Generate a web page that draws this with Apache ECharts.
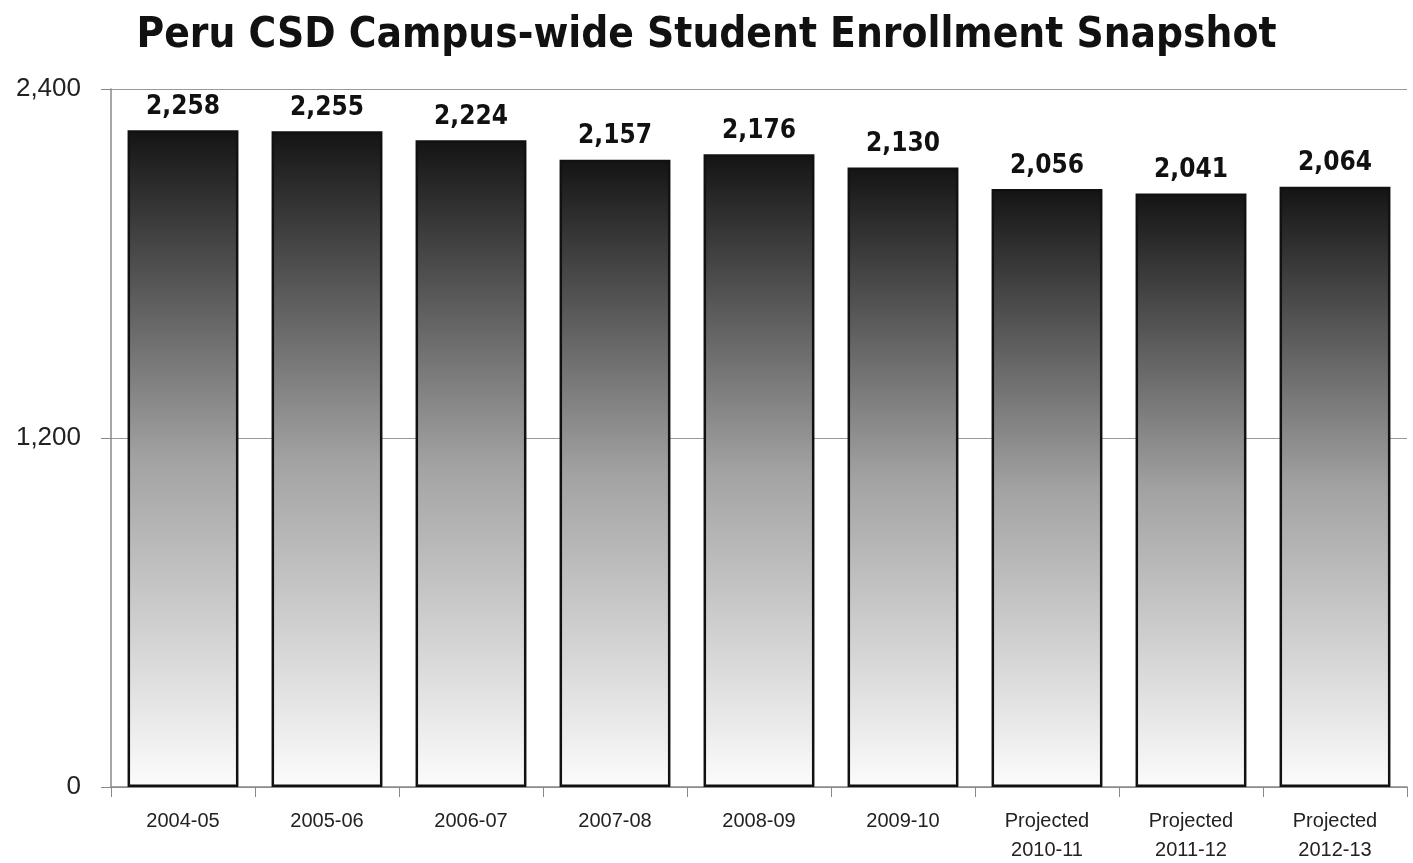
<!DOCTYPE html>
<html><head><meta charset="utf-8">
<script src="https://cdn.jsdelivr.net/npm/echarts@6/dist/echarts.min.js"></script>
<style>html,body{margin:0;padding:0;background:#fff}#c{width:1413px;height:863px}</style>
</head><body><div id="c"></div>
<script>
const categories = ['2004-05','2005-06','2006-07','2007-08','2008-09','2009-10','Projected\n2010-11','Projected\n2011-12','Projected\n2012-13'];
const enrollment = [2258,2255,2224,2157,2176,2130,2056,2041,2064];
const yTicks = [0,1200,2400];

const chart = echarts.init(document.getElementById('c'));
chart.setOption({
  backgroundColor:'#fff',
  animation:false,
  title:{text:'Peru CSD Campus-wide Student Enrollment Snapshot',left:'center',top:10,
    textStyle:{fontFamily:'"Liberation Sans Narrow","DejaVu Sans Condensed",Arial,sans-serif',fontSize:42,fontWeight:'bold',color:'#111'}},
  grid:{left:111,right:6,top:89,bottom:76,containLabel:false,outerBoundsMode:'none'},
  xAxis:{type:'category',data:categories,
    axisLine:{lineStyle:{color:'#888',width:1.5}},
    axisTick:{show:true,length:10,lineStyle:{color:'#888'}},
    axisLabel:{fontFamily:'"Liberation Sans",Arial,sans-serif',fontSize:20,color:'#222',margin:20,lineHeight:29}},
  yAxis:{type:'value',min:yTicks[0],max:yTicks[2],interval:yTicks[1]-yTicks[0],
    axisLine:{show:true,lineStyle:{color:'#888',width:1.5}},
    axisTick:{show:true,length:10,lineStyle:{color:'#888'}},
    splitLine:{lineStyle:{color:'#999',width:1.2}},
    axisLabel:{fontFamily:'"Liberation Sans",Arial,sans-serif',fontSize:26,color:'#222',margin:30,
      formatter:v=>v.toLocaleString('en-US')}},
  series:[{type:'bar',data:enrollment,barCategoryGap:'23%',
    itemStyle:{borderColor:'#111',borderWidth:2.5,
      color:{type:'linear',x:0,y:0,x2:0,y2:1,colorStops:[
        {offset:0,color:'#141414'},{offset:0.5,color:'#a2a2a2'},{offset:1,color:'#fcfcfc'}]}},
    label:{show:true,position:'top',distance:10,fontFamily:'"Liberation Sans Narrow","DejaVu Sans Condensed",Arial,sans-serif',
      fontSize:26,fontWeight:'bold',color:'#111',formatter:p=>p.value.toLocaleString('en-US')}}]
});
</script></body></html>
